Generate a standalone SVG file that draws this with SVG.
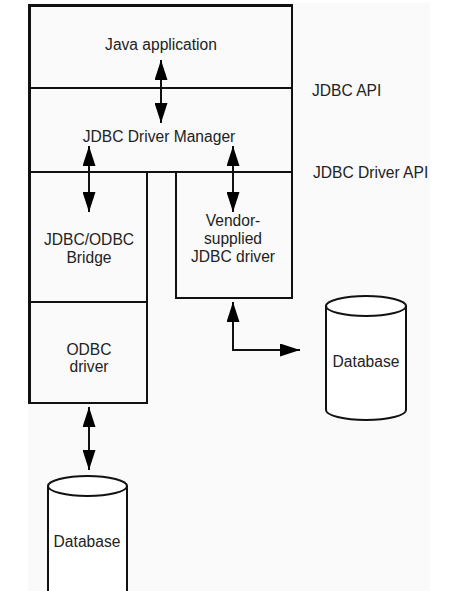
<svg xmlns="http://www.w3.org/2000/svg" width="469" height="591" viewBox="0 0 469 591">
<style>
.box{fill:none;stroke:#111;stroke-width:2}
.cyl{fill:#fff;stroke:#111;stroke-width:2}
.t{font-family:"Liberation Sans",Arial,sans-serif;font-size:15.6px;fill:#222;text-anchor:middle}
.tl{font-family:"Liberation Sans",Arial,sans-serif;font-size:15.6px;fill:#222}
.c{fill:none;stroke:#111;stroke-width:2}
</style>
<defs>
<marker id="ah" viewBox="0 0 20 13" refX="20" refY="6.5" markerWidth="20" markerHeight="13" markerUnits="userSpaceOnUse" orient="auto-start-reverse">
<path d="M0,0 L20,6.5 L0,13 z" fill="#000"/>
</marker>
</defs>
<rect width="469" height="591" fill="#fff"/>
<rect x="28" y="3" width="402" height="588" fill="#fafafa"/>
<g id="java-app">
<rect class="box" x="29" y="5" width="263" height="83"/>
<text class="t" x="161" y="50">Java application</text>
</g>
<g id="driver-manager">
<rect class="box" x="29" y="88" width="263" height="84"/>
<text class="t" x="159" y="142">JDBC Driver Manager</text>
</g>
<g id="bridge">
<rect class="box" x="29" y="172" width="118" height="130"/>
<text class="t" x="89" y="245">JDBC/ODBC</text>
<text class="t" x="89" y="263">Bridge</text>
</g>
<g id="odbc-driver">
<rect class="box" x="29" y="302" width="118" height="101"/>
<text class="t" x="89" y="355">ODBC</text>
<text class="t" x="89" y="372">driver</text>
</g>
<g id="vendor-driver">
<rect class="box" x="176" y="172" width="116" height="126"/>
<text class="t" x="233" y="226">Vendor-</text>
<text class="t" x="233" y="244">supplied</text>
<text class="t" x="233" y="262">JDBC driver</text>
</g>
<path d="M29.5,403 V5.5 H292" fill="none" stroke="#111" stroke-width="3"/>
<g id="label-jdbc-api"><text class="tl" x="312" y="96">JDBC API</text></g>
<g id="label-driver-api"><text class="tl" x="313" y="178">JDBC Driver API</text></g>
<g id="db-right">
<path class="cyl" d="M326,306 V410 A40,10 0 0 0 406,410 V306"/>
<ellipse class="cyl" cx="366" cy="306" rx="40" ry="10"/>
<text class="t" x="366" y="367">Database</text>
</g>
<g id="db-left">
<rect x="48" y="486" width="79" height="106" fill="#fff"/>
<path class="c" d="M48,486 V592 M127,592 V486"/>
<ellipse class="cyl" cx="87.5" cy="486" rx="39.5" ry="10"/>
<text class="t" x="87" y="547">Database</text>
</g>
<g id="connectors">
<line class="c" x1="161" y1="60" x2="161" y2="123" marker-start="url(#ah)" marker-end="url(#ah)"/>
<line class="c" x1="89" y1="146" x2="89" y2="212" marker-start="url(#ah)" marker-end="url(#ah)"/>
<line class="c" x1="233" y1="146" x2="233" y2="212" marker-start="url(#ah)" marker-end="url(#ah)"/>
<path class="c" d="M233,302 V350 H300" marker-start="url(#ah)" marker-end="url(#ah)"/>
<line class="c" x1="89" y1="407" x2="89" y2="470" marker-start="url(#ah)" marker-end="url(#ah)"/>
</g>
</svg>
